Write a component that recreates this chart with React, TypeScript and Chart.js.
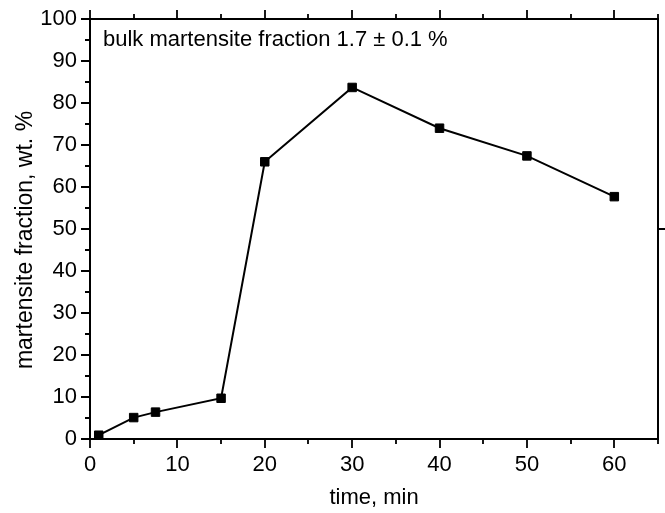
import React, { useEffect, useRef } from 'react';
import { Chart, registerables } from 'chart.js';

Chart.register(...registerables);

// Martensite content measured after each holding time
const timeMin = [1, 5, 7.5, 15, 20, 30, 40, 50, 60];
const martensitePct = [0.9, 5.1, 6.4, 9.7, 66.0, 83.7, 74.0, 67.4, 57.7];

const xTickValues = [0, 10, 20, 30, 40, 50, 60];
const yTickValues = [0, 10, 20, 30, 40, 50, 60, 70, 80, 90, 100];
const xMinorStep = 5;
const yMinorStep = 5;

const xTitle = 'time, min';
const yTitle = 'martensite fraction, wt. %';
const noteText = 'bulk martensite fraction 1.7 \u00b1 0.1 %';

const FONT = '"Liberation Sans", Arial, Helvetica, sans-serif';

// Wanted plot box inside the 665x513 canvas
const AREA = { left: 90, top: 19, right: 659, bottom: 439 };

// Draws the boxed frame with outward major/minor tick marks, the y title and the note
const framePlugin = {
  id: 'frameTicks',
  afterDraw(chart: any) {
    const { ctx, chartArea: a } = chart;
    const x = chart.scales.x;
    const y = chart.scales.y;
    ctx.save();
    ctx.strokeStyle = '#000';
    ctx.lineCap = 'square';
    ctx.lineWidth = 2;
    ctx.beginPath();
    ctx.rect(a.left, a.top, a.right - a.left, a.bottom - a.top);
    ctx.stroke();

    ctx.lineWidth = 1.8;
    ctx.lineCap = 'butt';
    ctx.beginPath();
    for (let v = x.min; v <= x.max + 1e-9; v += xMinorStep) {
      const px = Math.round(x.getPixelForValue(v));
      const len = v % 10 === 0 ? 9 : 5;
      ctx.moveTo(px, a.bottom);
      ctx.lineTo(px, a.bottom + len);
      ctx.moveTo(px, a.top);
      ctx.lineTo(px, a.top - len);
    }
    for (let v = y.min; v <= y.max + 1e-9; v += yMinorStep) {
      const py = Math.round(y.getPixelForValue(v));
      const len = v % 10 === 0 ? 9 : 5;
      ctx.moveTo(a.left, py);
      ctx.lineTo(a.left - len, py);
    }
    const pr = Math.round(y.getPixelForValue(50));
    ctx.moveTo(a.right, pr);
    ctx.lineTo(a.right + 9, pr);
    ctx.stroke();

    ctx.fillStyle = '#000';
    ctx.font = `22px ${FONT}`;
    ctx.textAlign = 'left';
    ctx.textBaseline = 'alphabetic';
    ctx.fillText(noteText, a.left + 13, a.top + 27);

    // rotated y-axis title
    ctx.save();
    ctx.font = `23px ${FONT}`;
    ctx.textAlign = 'center';
    ctx.translate(32, (a.top + a.bottom) / 2 + 11);
    ctx.rotate(-Math.PI / 2);
    ctx.fillText(yTitle, 0, 0);
    ctx.restore();

    ctx.restore();
  },
};

export default function App() {
  const canvasRef = useRef<HTMLCanvasElement | null>(null);

  useEffect(() => {
    const canvas = canvasRef.current;
    if (!canvas) return;
    const chart: any = new Chart(canvas, {
      type: 'line',
      data: {
        datasets: [
          {
            data: timeMin.map((t, i) => ({ x: t, y: martensitePct[i] })),
            borderColor: '#000',
            borderWidth: 2,
            backgroundColor: '#000',
            pointStyle: 'rect',
            pointRadius: 6,
            pointBorderWidth: 1,
            pointBorderColor: '#000',
            pointBackgroundColor: '#000',
            tension: 0,
            fill: false,
          },
        ],
      },
      options: {
        responsive: false,
        animation: false,
        layout: { padding: { left: AREA.left - 90, top: AREA.top, right: 665 - AREA.right, bottom: 0 } },
        plugins: {
          legend: { display: false },
          tooltip: { enabled: false },
        },
        scales: {
          x: {
            type: 'linear',
            min: 0,
            max: 65,
            grid: { display: false, drawTicks: false },
            border: { display: false },
            afterBuildTicks: (s: any) => {
              s.ticks = xTickValues.map((v) => ({ value: v }));
            },
            afterFit: (s: any) => {
              s.height = 513 - AREA.bottom;
              s.paddingLeft = 0;
              s.paddingRight = 0;
            },
            ticks: {
              padding: 13,
              color: '#000',
              maxRotation: 0,
              font: { family: FONT, size: 22 },
            },
            title: {
              display: true,
              text: xTitle,
              color: '#000',
              font: { family: FONT, size: 22 },
              padding: { top: 0, bottom: 2 },
            },
          },
          y: {
            type: 'linear',
            min: 0,
            max: 100,
            grid: { display: false, drawTicks: false },
            border: { display: false },
            afterBuildTicks: (s: any) => {
              s.ticks = yTickValues.map((v) => ({ value: v }));
            },
            afterFit: (s: any) => {
              s.width = 90;
              s.paddingTop = 0;
              s.paddingBottom = 0;
            },
            ticks: {
              padding: 13,
              color: '#000',
              font: { family: FONT, size: 22 },
            },
            title: { display: false },
          },
        },
      },
      plugins: [framePlugin],
    });

    // pin the plot box: correct the layout padding by whatever the auto layout added
    for (let pass = 0; pass < 3; pass++) {
      const ca = chart.chartArea;
      const pad = chart.options.layout.padding;
      const dTop = AREA.top - ca.top;
      const dRight = ca.right - AREA.right;
      const dBottom = ca.bottom - AREA.bottom;
      if (Math.abs(dTop) < 0.5 && Math.abs(dRight) < 0.5 && Math.abs(dBottom) < 0.5) break;
      pad.top = Math.max(0, pad.top + dTop);
      pad.right = Math.max(0, pad.right + dRight);
      pad.bottom = Math.max(0, pad.bottom + dBottom);
      chart.update();
    }

    return () => chart.destroy();
  }, []);

  return (
    <div style={{ position: 'fixed', left: 0, top: 0, width: 665, height: 513, background: '#fff' }}>
      <canvas ref={canvasRef} width={665} height={513} style={{ display: 'block' }} />
    </div>
  );
}
